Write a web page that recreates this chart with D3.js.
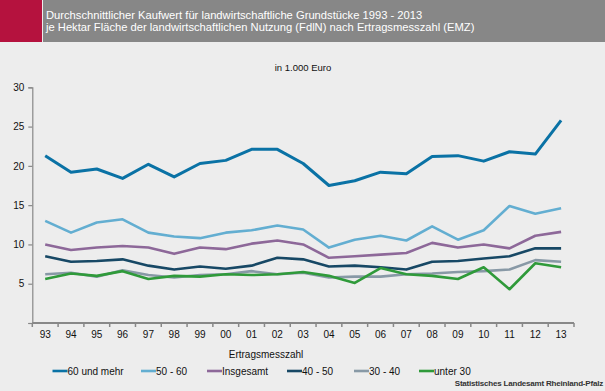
<!DOCTYPE html>
<html><head><meta charset="utf-8">
<script src="https://cdn.jsdelivr.net/npm/d3@7"></script>
<style>body{margin:0;background:#ededed}svg{display:block}text{font-family:"Liberation Sans",Arial,sans-serif}</style>
</head><body>
<script>
const years = ["93","94","95","96","97","98","99","00","01","02","03","04","05","06","07","08","09","10","11","12","13"];
const seriesNames = ["60 und mehr","50 - 60","Insgesamt","40 - 50","30 - 40","unter 30"];
const v60plus   = [21.3,19.2,19.6,18.4,20.2,18.6,20.3,20.7,22.1,22.1,20.3,17.5,18.1,19.2,19.0,21.2,21.3,20.6,21.8,21.5,25.8];
const v50to60   = [13.0,11.5,12.8,13.2,11.5,11.0,10.8,11.5,11.8,12.4,11.9,9.6,10.6,11.1,10.5,12.3,10.6,11.8,14.9,13.9,14.6];
const vTotal    = [10.0,9.3,9.6,9.8,9.6,8.8,9.6,9.4,10.1,10.5,10.0,8.3,8.5,8.7,8.9,10.2,9.6,10.0,9.5,11.1,11.6];
const v40to50   = [8.5,7.8,7.9,8.1,7.3,6.8,7.2,6.9,7.3,8.3,8.1,7.2,7.3,7.1,6.8,7.8,7.9,8.2,8.5,9.5,9.5];
const v30to40   = [6.2,6.4,5.9,6.7,6.1,5.8,6.1,6.2,6.6,6.2,6.4,5.8,5.9,5.9,6.2,6.3,6.5,6.6,6.8,8.0,7.8];
const vUnder30  = [5.6,6.3,6.0,6.6,5.6,6.0,5.9,6.2,6.1,6.2,6.5,6.0,5.1,7.0,6.2,6.0,5.6,7.1,4.3,7.6,7.1];
const yTicks = [0,5,10,15,20,25,30];
const colors = ["#0a72a5","#63aed1","#8d6899","#174865","#8899a6","#2f9a3a"];
const seriesValues = [v60plus,v50to60,vTotal,v40to50,v30to40,vUnder30];

const W=605,H=391;
const svg=d3.select("body").append("svg").attr("width",W).attr("height",H);
svg.append("rect").attr("width",W).attr("height",H).attr("fill","#ededed");
// header
svg.append("rect").attr("x",0).attr("y",0).attr("width",42).attr("height",42).attr("fill","#b5123e");
svg.append("rect").attr("x",43).attr("y",0).attr("width",W-43).attr("height",42).attr("fill","#878787");
svg.append("text").attr("x",46).attr("y",19).attr("fill","#fff").attr("font-size",11.2)
  .text("Durchschnittlicher Kaufwert für landwirtschaftliche Grundstücke 1993 - 2013");
svg.append("text").attr("x",46).attr("y",31).attr("fill","#fff").attr("font-size",11.2)
  .text("je Hektar Fläche der landwirtschaftlichen Nutzung (FdlN) nach Ertragsmesszahl (EMZ)");

svg.append("text").attr("x",303).attr("y",71).attr("text-anchor","middle").attr("font-size",9.5).attr("fill","#111").text("in 1.000 Euro");

const x=d3.scaleBand().domain(years).range([32.3,574]);
const y=d3.scaleLinear().domain([0,30]).range([323,87.3]);

const yAxis=svg.append("g").attr("transform","translate(32.3,0)")
  .call(d3.axisLeft(y).tickValues(yTicks).tickSize(4).tickPadding(4).tickFormat(d=>d===0?"":d));
yAxis.select(".domain").attr("stroke","#888").attr("stroke-width",1.2);
yAxis.selectAll(".tick line").attr("stroke","#888").attr("stroke-width",1.2);
yAxis.selectAll("text").attr("font-size",10).attr("fill","#111").style("font-family","Liberation Sans, Arial, sans-serif");

const xAxis=svg.append("g").attr("transform","translate(0,323)")
  .call(d3.axisBottom(x).tickSize(0).tickPadding(8));
xAxis.select(".domain").remove();
xAxis.selectAll("text").attr("font-size",10).attr("fill","#111").style("font-family","Liberation Sans, Arial, sans-serif");
// x axis line and ticks at band boundaries
svg.append("line").attr("x1",32.3).attr("x2",574).attr("y1",323).attr("y2",323).attr("stroke","#888").attr("stroke-width",2);
const bounds=years.map(d=>x(d)).concat([x(years[years.length-1])+x.bandwidth()]);
svg.selectAll(".xt").data(bounds).enter().append("line")
  .attr("x1",d=>d).attr("x2",d=>d).attr("y1",323).attr("y2",327).attr("stroke","#888").attr("stroke-width",1.5);

const line=d3.line().x((d,i)=>x(years[i])+x.bandwidth()/2).y(d=>y(d));
seriesValues.forEach((vals,k)=>{
  svg.append("path").datum(vals).attr("d",line).attr("fill","none")
    .attr("stroke",colors[k]).attr("stroke-width",k===0?3:2.6).attr("stroke-linejoin","round");
});

svg.append("text").attr("x",266).attr("y",358).attr("text-anchor","middle").attr("font-size",10).attr("fill","#111").text("Ertragsmesszahl");

const legX=[52.5,141,207,287,354,419];
seriesNames.forEach((n,k)=>{
  svg.append("line").attr("x1",legX[k]).attr("x2",legX[k]+15).attr("y1",371).attr("y2",371).attr("stroke",colors[k]).attr("stroke-width",2.6);
  svg.append("text").attr("x",legX[k]+15).attr("y",374.5).attr("font-size",10).attr("fill","#111").text(n);
});
svg.append("text").attr("x",603).attr("y",386).attr("text-anchor","end").attr("font-size",8).attr("font-weight","bold").attr("fill","#333").attr("letter-spacing",-0.2).text("Statistisches Landesamt Rheinland-Pfalz");
</script>
</body></html>
